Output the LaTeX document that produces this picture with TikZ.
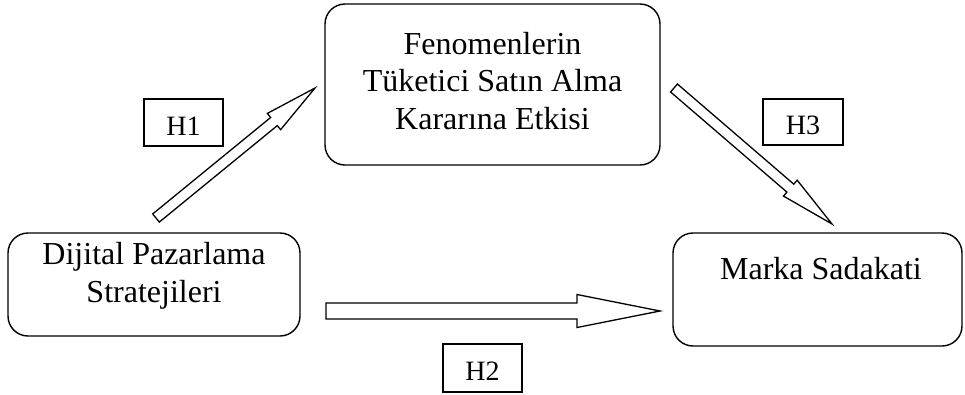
\documentclass[tikz,border=0pt]{standalone}
\usepackage{fontspec}
\setmainfont{Liberation Serif}
\usetikzlibrary{calc}

\tikzset{
  roundbox/.style={draw, line width=1.4pt, rounded corners=20pt, inner sep=0pt},
  boxtext/.style={align=center, inner sep=0pt, font=\fontsize{32}{37.5}\selectfont},
  hbox/.style={draw, line width=1.2pt, inner sep=0pt, text height=25pt, text depth=0pt,
    font=\fontsize{28}{30}\selectfont},
  fatline/.style={draw, line width=1.3pt, line join=miter, fill=white}
}

% Hollow block arrow from #1 to #2:
% #3 half shaft width, #4 half head width, #5 head length
\newcommand\blockarrow[5]{%
  \coordinate (hb) at ($(#2)!#5!(#1)$);
  \path[fatline]
    ($(#1)!#3!90:(#2)$) -- ($(hb)!#3!90:(#2)$) -- ($(hb)!#4!90:(#2)$) -- (#2)
    -- ($(hb)!#4!-90:(#2)$) -- ($(hb)!#3!-90:(#2)$) -- ($(#1)!#3!-90:(#2)$) -- cycle;
}

\begin{document}
\begin{tikzpicture}[x=1pt, y=-1pt]
  \useasboundingbox (0,0) rectangle (965,394);

  % main boxes
  \node[roundbox, minimum width=335pt, minimum height=161pt] (fen) at (492.5,84.5) {};
  \node[boxtext] (fent) at (492.5,81) {Fenomenlerin\\Tüketici Satın Alma\\Kararına Etkisi};

  \node[roundbox, minimum width=292pt, minimum height=103pt] (dij) at (154,284.5) {};
  \node[boxtext] (dijt) at (154,276) {Dijital Pazarlama\\Stratejileri};

  \node[roundbox, minimum width=289pt, minimum height=113pt] (mar) at (817.5,289.5) {};
  \node[boxtext] (mart) at (821,269) {Marka Sadakati};

  % hypothesis labels
  \node[hbox, minimum width=79pt, minimum height=47pt] (h1) at (183.5,122.5) {H1};
  \node[hbox, minimum width=80pt, minimum height=46pt] (h3) at (803,122) {H3};
  \node[hbox, minimum width=79pt, minimum height=48pt] (h2) at (482.5,368) {H2};

  % arrow end points
  \coordinate (a1s) at (156,218);
  \coordinate (a1e) at (315,88);
  \coordinate (a3s) at (674,88);
  \coordinate (a3e) at (832,224);
  \coordinate (a2s) at (326,311);
  \coordinate (a2e) at (660,311);

  \blockarrow{a1s}{a1e}{5.25pt}{10.5pt}{53pt}
  \blockarrow{a3s}{a3e}{5.25pt}{10.5pt}{55pt}
  \blockarrow{a2s}{a2e}{8pt}{16.5pt}{83pt}
\end{tikzpicture}
\end{document}
